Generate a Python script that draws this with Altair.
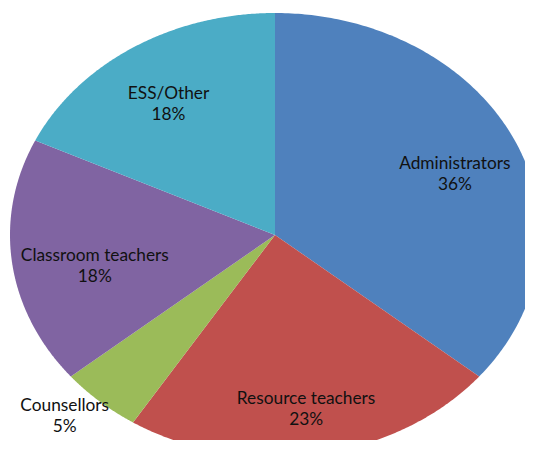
import altair as alt
import pandas as pd

categories = ["Administrators", "Resource teachers", "Counsellors", "Classroom teachers", "ESS/Other"]
values = [36, 23, 5, 18, 18]
colors = ["#4F81BD", "#C0504D", "#9BBB59", "#8064A2", "#4BACC6"]

df = pd.DataFrame({"category": categories, "value": values})

base = (
    alt.Chart(df)
    .transform_window(idx="row_number()")
    .transform_joinaggregate(total="sum(value)")
    .transform_window(cum="sum(value)", sort=[alt.SortField("idx")], frame=[None, 0])
    .transform_calculate(
        a0="2*PI*(datum.cum - datum.value)/datum.total",
        a1="2*PI*datum.cum/datum.total",
    )
)

# view W x H px; ellipse centre at (267, 227), radii 265 x 222 px
W, H = 517, 432
xs = alt.Scale(domain=[-267 / 265, (W - 267) / 265], nice=False, zero=False)
ys = alt.Scale(domain=[-(H - 227) / 222, 227 / 222], nice=False, zero=False)
cs = alt.Scale(domain=categories, range=colors)

wedges = (
    base.transform_calculate(step="sequence(-1, 181)")
    .transform_flatten(["step"])
    .transform_calculate(
        ang="datum.a0 + (datum.a1 - datum.a0) * max(datum.step, 0) / 180",
        px="datum.step < 0 ? 0 : sin(datum.ang)",
        py="datum.step < 0 ? 0 : cos(datum.ang)",
    )
    .mark_line(filled=True, clip=True, strokeWidth=0, interpolate="linear")
    .encode(
        x=alt.X("px:Q", scale=xs, axis=None),
        y=alt.Y("py:Q", scale=ys, axis=None),
        color=alt.Color("category:N", scale=cs, legend=None),
        order=alt.Order("step:Q"),
    )
)

labels = (
    base.transform_calculate(
        mid="(datum.a0 + datum.a1) / 2",
        outside="datum.value / datum.total < 0.1",
        r="datum.outside ? 1.2 : 0.75",
        # keep labels inside the slice / drawing area
        lx="datum.outside ? sin(datum.mid) * datum.r : clamp(sin(datum.mid) * datum.r, -0.68, 0.68)",
        ly="max(cos(datum.mid) * datum.r, -0.77)",
        label="datum.category + '\\n' + round(100 * datum.value / datum.total) + '%'",
    )
    .mark_text(lineBreak="\n", font="Lato", fontSize=17.3, color="#111111", baseline="middle", align="center", lineHeight=21)
    .encode(
        x=alt.X("lx:Q", scale=xs, axis=None),
        y=alt.Y("ly:Q", scale=ys, axis=None),
        text="label:N",
    )
)

chart = (
    alt.layer(wedges, labels)
    .properties(width=W, height=H, padding=0, autosize=alt.AutoSizeParams(type="none"), background="white")
    .configure_view(stroke=None)
)

chart.save("out.html", embed_options={"renderer": "svg", "actions": False})
